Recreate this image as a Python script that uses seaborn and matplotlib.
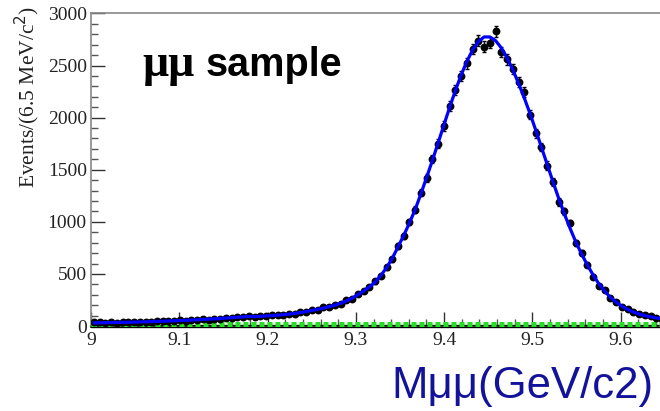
import numpy as np
import pandas as pd
import matplotlib
matplotlib.use("Agg")
import matplotlib.pyplot as plt
import seaborn as sns
from matplotlib.ticker import MultipleLocator

# ---- data ----
bin_lo = 9.0
bin_width = 0.0065
counts = [38, 35, 30, 36, 32, 38, 35, 40, 37, 43,
          41, 45, 44, 52, 47, 55, 51, 60, 56, 65,
          62, 72, 70, 78, 75, 88, 85, 96, 90, 98,
          95, 103, 106, 104, 118, 117, 133, 136, 155, 157,
          178, 184, 205, 215, 245, 262, 305, 338, 372, 428,
          478, 565, 640, 770, 862, 1000, 1115, 1280, 1420, 1600,
          1750, 1920, 2110, 2270, 2400, 2520, 2660, 2740, 2680, 2720,
          2830, 2630, 2560, 2470, 2340, 2250, 2030, 1850, 1720, 1540,
          1380, 1190, 1100, 990, 800, 700, 590, 475, 385, 345,
          270, 230, 185, 165, 138, 120, 105, 92, 78, 72]
fit = [30, 31, 32, 33, 34, 35, 36, 37, 39, 40,
       42, 44, 46, 48, 50, 52, 54, 57, 60, 63,
       66, 69, 72, 76, 80, 84, 88, 92, 90, 93,
       96, 100, 104, 109, 114, 121, 129, 139, 150, 160,
       172, 186, 200, 218, 240, 268, 300, 335, 375, 420,
       485, 560, 650, 760, 870, 990, 1120, 1270, 1430, 1590,
       1760, 1930, 2100, 2260, 2410, 2540, 2650, 2730, 2775, 2775,
       2740, 2670, 2575, 2460, 2330, 2190, 2040, 1880, 1715, 1550,
       1385, 1225, 1075, 935, 805, 690, 585, 490, 405, 335,
       275, 230, 190, 160, 135, 115, 100, 88, 78, 70]
bkg_x = [9.0, 9.7]
bkg_y = [15, 15]
x_ticks = [9.0, 9.1, 9.2, 9.3, 9.4, 9.5, 9.6]
x_tick_labels = ["9", "9.1", "9.2", "9.3", "9.4", "9.5", "9.6"]
y_ticks = [0, 500, 1000, 1500, 2000, 2500, 3000]
y_tick_labels = ["0", "500", "1000", "1500", "2000", "2500", "3000"]

centers = bin_lo + bin_width * (np.arange(len(counts)) + 0.5)
df = pd.DataFrame({"mass": centers, "events": counts, "fit": fit})

sns.set_style("ticks")
plt.rcParams["font.family"] = ["Liberation Serif", "DejaVu Serif"]

W, H = 660, 411
fig = plt.figure(figsize=(W / 100, H / 100), dpi=100)
ax = fig.add_axes([91 / W, (H - 326) / H, 618 / W, (326 - 13.5) / H])

# background line (green dashed) with black baseline under it
ax.plot([9.0, 9.7], [0, 0], color="black", lw=2.4, zorder=2, clip_on=False)
bl = sns.lineplot(x=bkg_x, y=bkg_y, ax=ax, color="#22e022", lw=3.6,
                  linestyle=(0, (1.0, 0.6)), zorder=3, legend=False)
bl.lines[-1].set_clip_on(False)

# data points with errors
ax.errorbar(df["mass"], df["events"], yerr=np.sqrt(df["events"]),
            fmt="none", ecolor="black", elinewidth=1.0, capsize=1.5, zorder=4)
sns.scatterplot(data=df, x="mass", y="events", ax=ax, color="black",
                s=32, edgecolor="black", linewidth=0, zorder=5, legend=False)

# fit curve
sns.lineplot(data=df, x="mass", y="fit", ax=ax, color="#0000ff", lw=2.3,
             zorder=6, legend=False)

ax.set_xlim(9.0, 9.7)
ax.set_ylim(0, 3000)
ax.set_xticks(x_ticks)
ax.set_xticklabels(x_tick_labels)
ax.set_yticks(y_ticks)
ax.set_yticklabels(y_tick_labels)
ax.xaxis.set_minor_locator(MultipleLocator(0.02))
ax.yaxis.set_minor_locator(MultipleLocator(100))
ax.tick_params(axis="both", which="major", direction="in", length=10,
               width=1.0, color="#333333", labelsize=14, labelcolor="#222222")
ax.tick_params(axis="both", which="minor", direction="in", length=5,
               width=1.0, color="#555555")
ax.tick_params(axis="x", which="major", pad=4)
ax.tick_params(axis="y", which="major", pad=3)
ax.set_xlabel("")
ax.set_ylabel("")
for side in ["left", "top"]:
    ax.spines[side].set_color("#888888")
    ax.spines[side].set_linewidth(1.2)
ax.spines["right"].set_visible(False)
ax.spines["bottom"].set_color("#333333")

fig.text(27 / W, 1 - 97 / H, "Events/(6.5 MeV/c$^{2}$)", rotation=90,
         ha="center", va="center", fontsize=15.5, color="#222222",
         family=["Liberation Serif", "DejaVu Serif"])

fig.text(142 / W, 1 - 76 / H, "\u03bc\u03bc", fontsize=33, fontweight="bold",
         ha="left", va="baseline", color="black",
         family=["Liberation Serif", "DejaVu Serif"])
fig.text(206 / W, 1 - 76 / H, "sample", fontsize=28.5, fontweight="bold",
         ha="left", va="baseline", color="black",
         family=["Liberation Sans", "DejaVu Sans"])

fig.text(522 / W, 1 - 398 / H, "M\u03bc\u03bc(GeV/c2)", fontsize=31.5,
         ha="center", va="baseline", color="#12129a",
         family=["Liberation Sans", "DejaVu Sans"])

fig.savefig("out.png", dpi=100)
